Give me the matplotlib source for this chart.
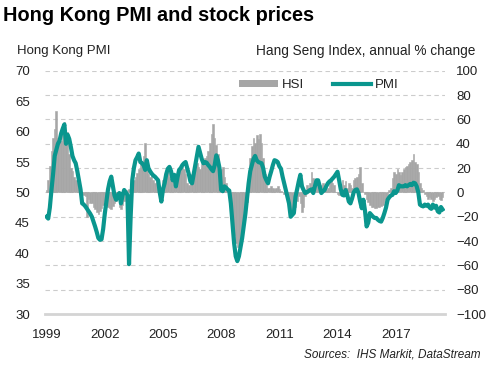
"""Hong Kong PMI and Hang Seng Index chart"""
import matplotlib
matplotlib.use('Agg')
import matplotlib.pyplot as plt
from matplotlib.patches import Patch
from matplotlib.lines import Line2D

plt.rcParams['font.family'] = ['Liberation Sans', 'DejaVu Sans']

# Monthly data, Jan 1999 - Jun 2019
pmi = [
    46.0, 45.7, 47.5, 50.4, 53.0, 56.0, 57.0, 58.0, 58.5, 59.7, 60.5, 61.2,  # 1999
    58.0, 59.5, 58.8, 57.5, 56.0, 55.3, 54.8, 53.5, 52.0, 50.5, 48.2, 48.0,  # 2000
    47.7, 47.3, 46.9, 46.5, 46.0, 45.2, 44.4, 43.5, 42.5, 42.2, 42.3, 44.0,  # 2001
    46.5, 48.5, 50.5, 51.8, 52.6, 51.0, 49.5, 48.8, 49.5, 49.9, 48.2, 49.5,  # 2002
    50.4, 50.0, 49.6, 38.2, 46.0, 52.0, 54.0, 55.3, 55.8, 56.4, 55.0, 54.8,  # 2003
    54.5, 53.7, 55.3, 54.0, 53.5, 53.1, 52.8, 52.6, 52.3, 52.0, 50.0, 48.5,  # 2004
    50.5, 51.5, 53.0, 53.9, 54.2, 53.5, 52.0, 52.9, 51.0, 52.5, 53.7, 54.0,  # 2005
    54.5, 54.8, 55.0, 54.0, 53.0, 51.8, 51.5, 53.0, 54.5, 55.9, 57.5, 56.5,  # 2006
    55.5, 54.8, 55.0, 54.9, 54.5, 54.2, 53.8, 53.5, 54.5, 56.1, 55.3, 54.0,  # 2007
    50.4, 50.2, 51.0, 50.8, 50.5, 50.3, 48.2, 45.0, 41.7, 39.5, 38.7, 39.5,  # 2008
    41.0, 42.5, 44.5, 46.5, 49.0, 51.5, 53.5, 54.5, 55.5, 56.0, 55.3, 55.0,  # 2009
    54.9, 54.8, 54.0, 52.6, 52.0, 51.5, 52.6, 53.5, 54.5, 55.3, 55.2, 55.0,  # 2010
    54.3, 53.9, 52.6, 51.5, 50.4, 49.3, 48.2, 46.0, 46.3, 46.6, 49.3, 50.5,  # 2011
    51.8, 52.9, 51.0, 50.4, 49.9, 50.0, 50.2, 50.4, 50.5, 49.9, 51.0, 52.0,  # 2012
    52.0, 51.0, 49.9, 50.2, 50.4, 51.0, 51.5, 51.8, 52.0, 52.3, 52.6, 53.0,  # 2013
    53.4, 52.0, 50.5, 49.6, 49.5, 50.4, 49.6, 48.5, 48.2, 49.0, 50.0, 50.4,  # 2014
    50.5, 49.9, 48.5, 47.4, 48.8, 47.0, 44.4, 45.0, 46.6, 46.3, 46.0, 45.8,  # 2015
    45.8, 45.5, 45.3, 45.2, 45.8, 46.6, 47.5, 48.8, 49.2, 49.5, 49.6, 50.2,  # 2016
    49.9, 50.3, 51.2, 51.0, 51.0, 51.0, 51.2, 51.0, 51.2, 51.4, 51.2, 51.6,  # 2017
    51.5, 51.0, 50.0, 48.0, 47.8, 47.7, 48.0, 47.8, 48.0, 47.5, 47.3, 48.0,  # 2018
    47.5, 47.8, 46.9, 46.7, 47.6, 47.2,                                      # 2019
]

hsi = [
    2, 10, 22, 34, 45, 52, 67, 45, 47, 42, 52, 58,          # 1999
    42, 50, 32, 20, 18, 13, 10, 8, 4, 1, -1, -2,            # 2000
    -3, -20, -5, -9, -9, -12, -14, -16, -18, -15, -13, -10,  # 2001
    -7, -9, -12, -13, -14, -11, -9, -7, -5, -12, -14, -10,  # 2002
    -7, -2, 2, 3, 4, 8, 10, 13, 16, 19, 23, 26,             # 2003
    30, 41, 19, 15, 13, 15, 10, 8, 10, 6, 2, 4,             # 2004
    10, 13, 15, 17, 13, 11, 10, 8, 10, 13, 17, 19,          # 2005
    21, 19, 15, 8, 6, 10, 15, 19, 23, 24, 21, 19,           # 2006
    23, 27, 28, 30, 34, 41, 48, 56, 45, 39, 32, 21,         # 2007
    19, 21, 13, 8, 2, -3, -12, -25, -35, -42, -45, -45,     # 2008
    -42, -35, -25, -18, -8, 5, 28, 38, 45, 41, 47, 44,      # 2009
    48, 41, 28, 15, 6, 4, 4, 5, 4, 3, 4, 5,                 # 2010
    3, 1, 0, -1, -1, -3, -7, -14, -16, -9, -12, -7,         # 2011
    -3, -9, -16, -12, -3, 6, 4, 8, 17, 12, 8, 10,           # 2012
    8, 4, 6, 8, 4, 2, 4, 8, 12, 8, 6, 0,                    # 2013
    -1, -2, 3, 10, 6, 9, 4, 8, 6, 4, 10, 12,                # 2014
    13, 15, 21, 8, 0, -1, -5, -8, -10, -12, -12, -13,       # 2015
    -13, -12, -12, -11, -10, -8, -5, -2, 2, 4, 12, 17,      # 2016
    15, 19, 17, 14, 17, 19, 21, 22, 23, 25, 27, 32,         # 2017
    25, 23, 17, 8, 4, 2, -1, -3, -5, -4, -5, -7,            # 2018
    -5, -4, -3, -5, -6, -4,                                 # 2019
]

years = [1999, 2002, 2005, 2008, 2011, 2014, 2017]

teal = '#0a968e'
grey = '#a6a6a6'
text_col = '#222222'

months = list(range(len(pmi)))
year_ticks = [(y - 1999) * 12 for y in years]

fig = plt.figure(figsize=(4.89, 3.69), dpi=100)
ax = fig.add_axes([0.092, 0.149, 0.818, 0.659])
ax2 = ax.twinx()

# HSI bars on the right axis, drawn underneath
ax2.bar(months, hsi, width=1.0, color=grey, edgecolor=grey, linewidth=0.4, zorder=2)
ax2.set_ylim(-100, 100)
ax2.set_yticks(range(-100, 101, 20))
ax2.grid(axis='y', color='#cccccc', linestyle=(0, (4, 3)), linewidth=0.8, zorder=0)
ax2.set_axisbelow(True)

# PMI line on the left axis, on top
ax.set_zorder(ax2.get_zorder() + 1)
ax.patch.set_visible(False)
ax.plot(months, pmi, color=teal, linewidth=3.0, solid_joinstyle='round')
ax.set_ylim(30, 70)
ax.set_yticks(range(30, 71, 5))
ax.set_xlim(-1, 246.5)
ax.set_xticks(year_ticks)
ax.set_xticklabels([str(y) for y in years])

for a in (ax, ax2):
    for side in ('top', 'left', 'right', 'bottom'):
        a.spines[side].set_visible(False)
    a.tick_params(length=0, labelsize=9.5, labelcolor=text_col)
ax.tick_params(axis='y', pad=11)
ax2.tick_params(axis='y', pad=8)
ax.tick_params(axis='x', pad=11)
ax.axhline(30, color='#d4d4d4', linewidth=2, clip_on=False)

# Legend
handles = [Patch(color=grey, linewidth=0), Line2D([], [], color=teal, linewidth=3)]
ax.legend(handles, ['HSI', 'PMI'], loc='center', bbox_to_anchor=(0.685, 0.94),
          ncol=2, frameon=False, fontsize=9.5, handlelength=2.9, handleheight=0.45,
          columnspacing=2.2, handletextpad=0.3, labelcolor=text_col)

# Titles and notes
fig.text(0.006, 0.957, 'Hong Kong PMI and stock prices', fontsize=14.3,
         fontweight='bold', color='black', va='center')
fig.text(0.035, 0.862, 'Hong Kong PMI', fontsize=9.5, color=text_col, va='center')
fig.text(0.972, 0.862, 'Hang Seng Index, annual % change', fontsize=9.8,
         color=text_col, va='center', ha='right')
fig.text(0.982, 0.038, 'Sources:  IHS Markit, DataStream', fontsize=8.5,
         style='italic', color=text_col, va='center', ha='right')

plt.savefig('out.png', dpi=100)
plt.close()
